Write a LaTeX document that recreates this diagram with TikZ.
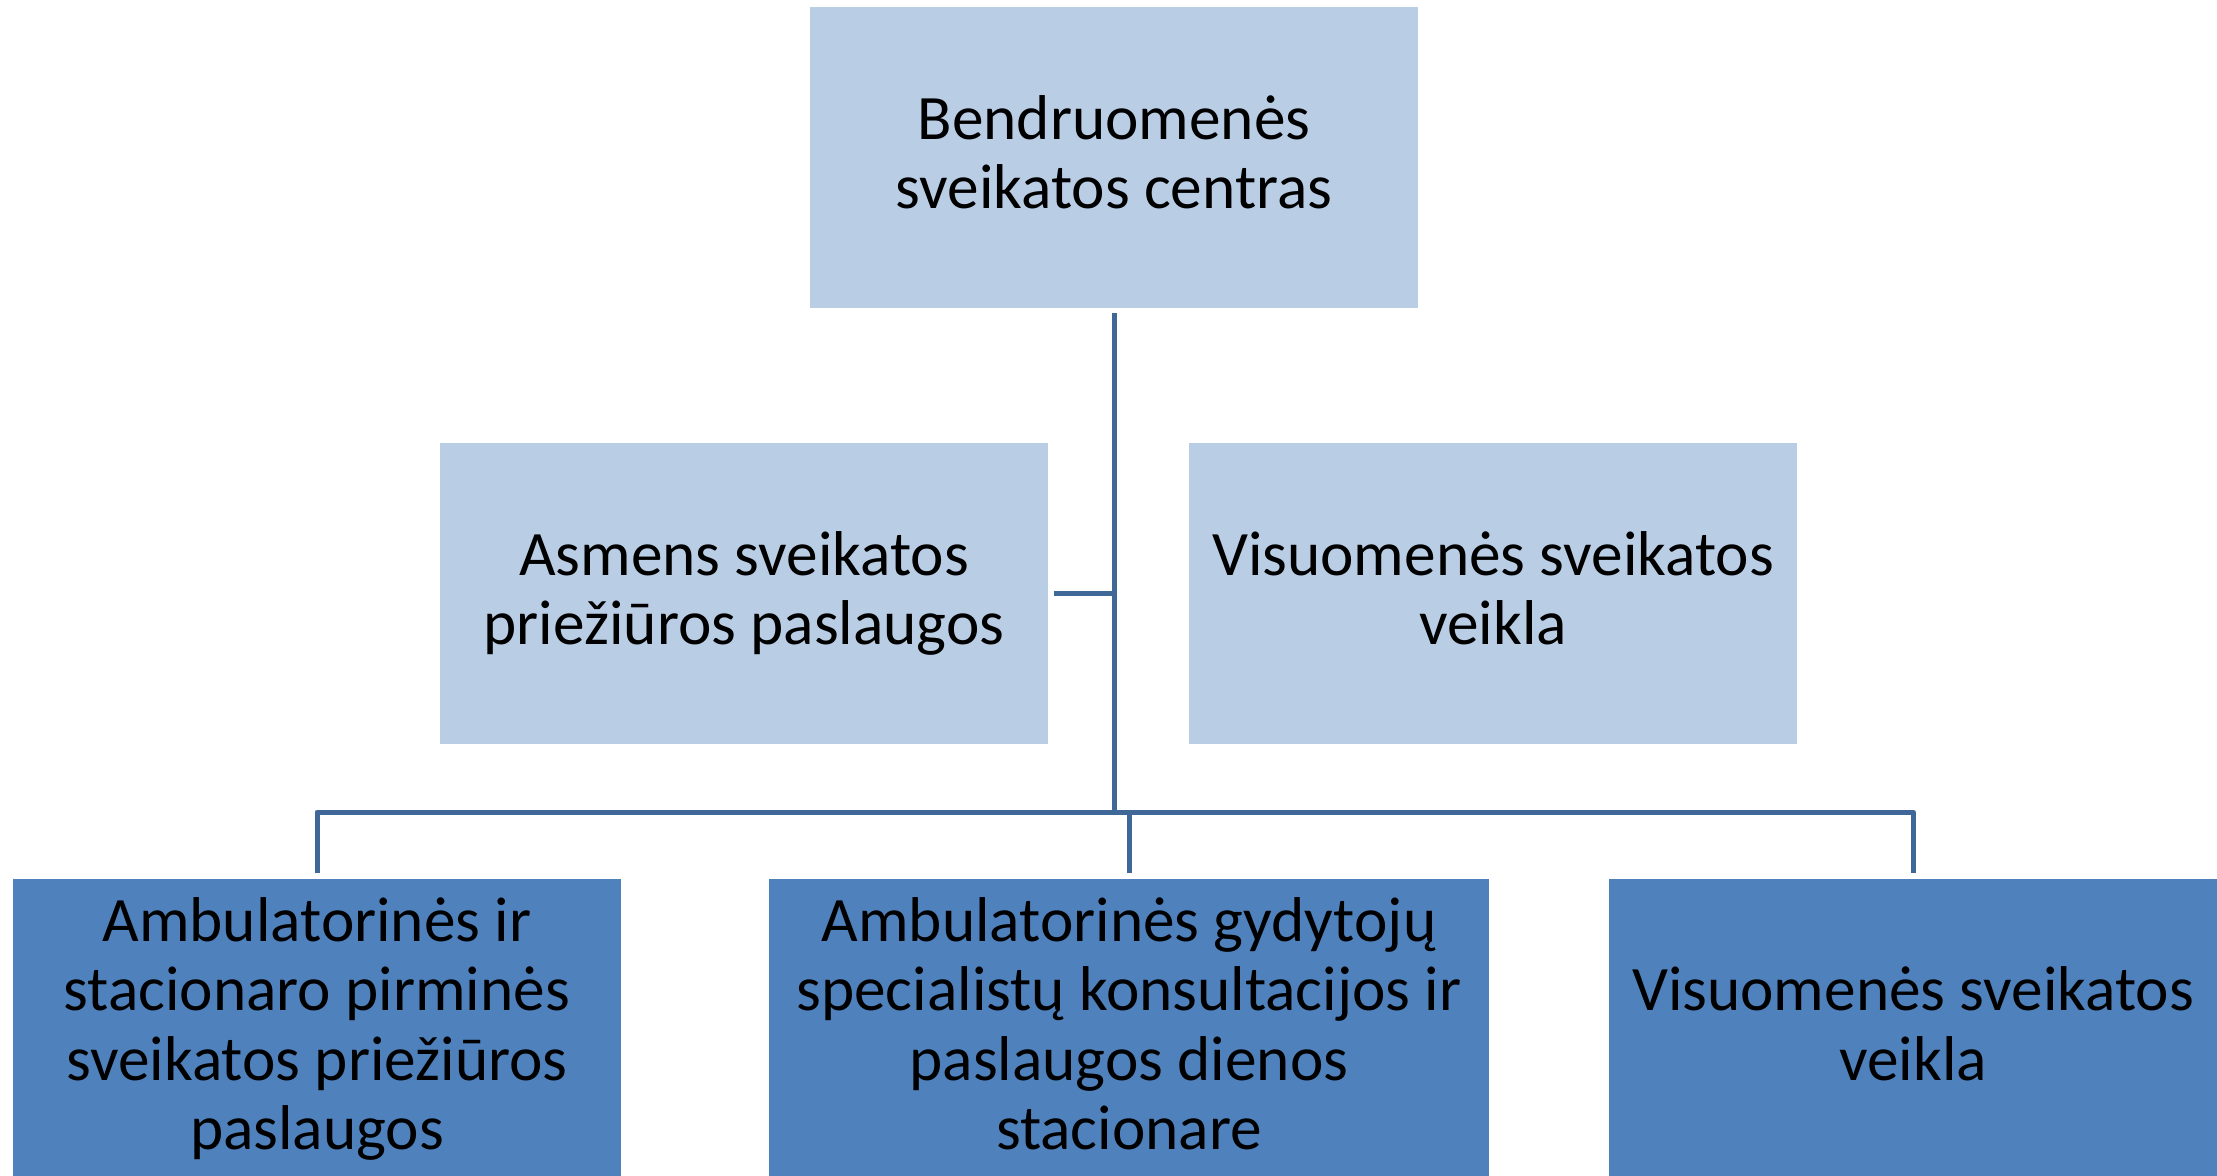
\documentclass[tikz,border=0pt]{standalone}
\usepackage{fontspec}
\setmainfont{Carlito}
\usepackage{tikz}
\usetikzlibrary{positioning}
\definecolor{lightbox}{HTML}{B9CDE5}
\definecolor{darkbox}{HTML}{4F81BD}
\definecolor{linkblue}{HTML}{3F6797}
\def \ls{\vrule width 0pt height 16.5pt depth 3.13pt}
\tikzstyle{box} = [rectangle,inner sep=0pt,outer sep=0.055cm,minimum width=6.08cm,minimum height=3cm,align=center,font=\fontsize{18}{19.63}\selectfont,execute at begin node=\ls,execute at end node=\ls]
\tikzstyle{light} = [box,fill=lightbox]
\tikzstyle{dark} = [box,fill=darkbox]
\tikzstyle{link} = [linkblue,line width=0.05cm,line join=round]

\begin{document}
\begin{tikzpicture}[x=0.01cm,y=-0.01cm]
		\useasboundingbox (0,0) rectangle (2217,1175);
		\begin{scope}

		% define constants
		\def \ya {157.5}
		\def \yb {593.5}
		\def \yc {1029}

		% Draw the boxes
		\node[light] (bsc) at (1114,\ya) {Bendruomenės\\sveikatos centras};
		\node[light] (asp) at (744,\yb) {Asmens sveikatos\\priežiūros paslaugos};
		\node[light] (vsv) at (1493,\yb) {Visuomenės sveikatos\\veikla};
		\node[dark] (amb) at (317,\yc) {Ambulatorinės ir\\stacionaro pirminės\\sveikatos priežiūros\\paslaugos};
		\node[dark,minimum width=7.2cm] (spec) at (1129,\yc) {Ambulatorinės gydytojų\\specialistų konsultacijos ir\\paslaugos dienos\\stacionare};
		\node[dark] (veikla) at (1913,\yc) {Visuomenės sveikatos\\veikla};

		% Draw the links
		\coordinate (hub) at (bsc.south |- 0,812);
		\draw[link] (bsc.south) -- (hub);
		\draw[link] (asp.east) -- (asp.east -| hub);
		\draw[link] (amb.north) |- (hub) -| (veikla.north);
		\draw[link] (spec.north) -- (spec.north |- hub);

		\end{scope}
		\end{tikzpicture}
\end{document}
